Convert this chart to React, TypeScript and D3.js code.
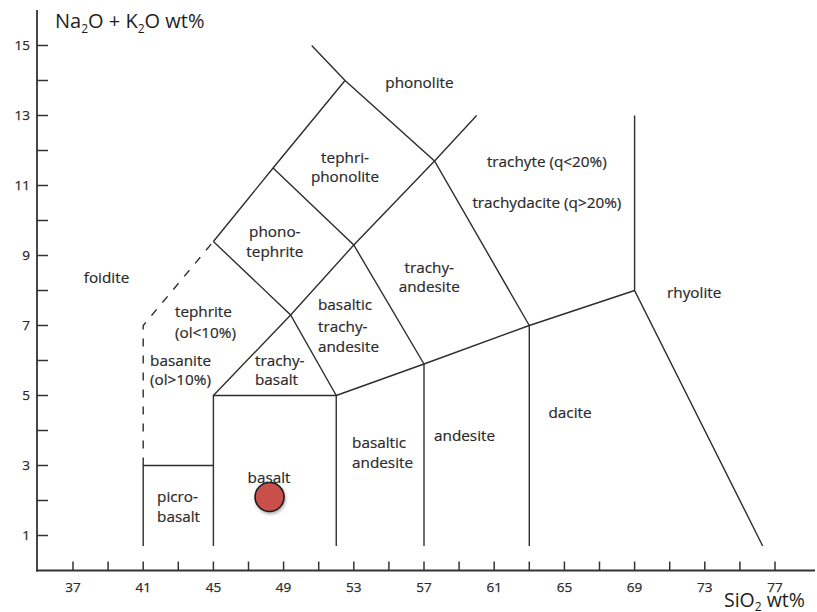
import React from "react";
import * as d3 from "d3";

// TAS (total alkali vs silica) classification diagram

// boundary polylines, [SiO2, Na2O+K2O]
const solidBoundaries: [number, number][][] = [
  [[41, 0.7], [41, 3], [45, 3]],
  [[45, 0.7], [45, 5], [52, 5], [52, 0.7]],
  [[52, 5], [57, 5.9], [63, 7], [69, 8]],
  [[57, 0.7], [57, 5.9]],
  [[63, 0.7], [63, 7]],
  [[69, 13], [69, 8], [76.3, 0.7]],
  [[45, 9.4], [49.4, 7.3], [52, 5]],
  [[45, 5], [49.4, 7.3], [53, 9.3], [57.6, 11.7], [60, 13]],
  [[48.4, 11.5], [53, 9.3], [57, 5.9]],
  [[45, 9.4], [48.4, 11.5], [52.5, 14]],
  [[50.6, 15], [52.5, 14], [57.6, 11.7], [63, 7]],
];
const dashedBoundaries: [number, number][][] = [
  [[41, 3], [41, 7], [45, 9.4]],
];

// field names: text, SiO2, alkali, anchor
const fieldLabels: [string, number, number, string][] = [
  ["phonolite", 56.74, 13.93, "middle"],
  ["tephri-", 52.5, 11.81, "middle"],
  ["phonolite", 52.5, 11.24, "middle"],
  ["trachyte (q<20%)", 64.0, 11.67, "middle"],
  ["trachydacite (q>20%)", 64.0, 10.5, "middle"],
  ["phono-", 48.5, 9.67, "middle"],
  ["tephrite", 48.5, 9.1, "middle"],
  ["foidite", 38.91, 8.36, "middle"],
  ["trachy-", 57.3, 8.64, "middle"],
  ["andesite", 57.3, 8.1, "middle"],
  ["rhyolite", 70.85, 7.93, "start"],
  ["tephrite", 42.81, 7.39, "start"],
  ["(ol<10%)", 42.81, 6.81, "start"],
  ["basanite", 41.39, 6.01, "start"],
  ["(ol>10%)", 41.39, 5.44, "start"],
  ["trachy-", 47.37, 6.01, "start"],
  ["basalt", 47.37, 5.44, "start"],
  ["basaltic", 50.96, 7.59, "start"],
  ["trachy-", 50.96, 6.96, "start"],
  ["andesite", 50.96, 6.39, "start"],
  ["dacite", 65.32, 4.5, "middle"],
  ["andesite", 59.31, 3.84, "middle"],
  ["basaltic", 52.9, 3.64, "start"],
  ["andesite", 52.9, 3.07, "start"],
  ["basalt", 48.17, 2.64, "middle"],
  ["picro-", 41.79, 2.1, "start"],
  ["basalt", 41.79, 1.53, "start"],
];

// sample
const sampleSiO2 = [48.2];
const sampleAlkali = [2.1];

const xTicks = d3.range(37, 78, 2);
const xTickLabels = [37, 41, 45, 49, 53, 57, 61, 65, 69, 73, 77];
const yTicks = d3.range(1, 16, 1);
const yTickLabels = [1, 3, 5, 7, 9, 11, 13, 15];

const W = 817;
const H = 612;
const FONT = "'Open Sans', 'DejaVu Sans', sans-serif";
const INK = "#2e2e2e";
const TEXT = "#2a2a2a";

export default function App() {
  const x = d3.scaleLinear().domain([37, 77]).range([73, 775]);
  const y = d3.scaleLinear().domain([0, 15]).range([570.5, 45.5]);
  const axisX = 37;
  const axisY = y(0);

  const line = d3
    .line<[number, number]>()
    .x((d) => x(d[0]))
    .y((d) => y(d[1]));

  return (
    <svg
      width={W}
      height={H}
      style={{ position: "absolute", left: 0, top: 0, background: "#fff" }}
      fontFamily={FONT}
    >
      <defs>
        <filter id="shadow" x="-50%" y="-50%" width="200%" height="200%">
          <feDropShadow dx="1" dy="2" stdDeviation="1.5" floodColor="#000" floodOpacity="0.3" />
        </filter>
      </defs>

      {/* axes */}
      <line x1={axisX} x2={axisX} y1={10} y2={axisY + 1} stroke="#333" strokeWidth={1.8} />
      <line x1={axisX - 1} x2={815} y1={axisY} y2={axisY} stroke="#333" strokeWidth={1.8} />
      {yTicks.map((t) => (
        <line key={"yt" + t} x1={axisX} x2={axisX + 11} y1={y(t)} y2={y(t)} stroke="#333" strokeWidth={1.5} />
      ))}
      {xTicks.map((t) => (
        <line key={"xt" + t} x1={x(t)} x2={x(t)} y1={axisY} y2={axisY - 9} stroke="#333" strokeWidth={1.5} />
      ))}
      {yTickLabels.map((t) => (
        <text key={"yl" + t} x={30} y={y(t)} dy="0.36em" textAnchor="end" fontSize={13.5} fill={TEXT}
          stroke={TEXT} strokeWidth={0.25}>
          {t}
        </text>
      ))}
      {xTickLabels.map((t) => (
        <text key={"xl" + t} x={x(t)} y={592} textAnchor="middle" fontSize={13.5} fill={TEXT}
          stroke={TEXT} strokeWidth={0.25}>
          {t}
        </text>
      ))}

      {/* axis titles */}
      <text x={55} y={28} fontSize={20} fill="#1e1e1e">
        Na<tspan fontSize={12} dy={5}>2</tspan>
        <tspan dy={-5}>O + K</tspan>
        <tspan fontSize={12} dy={5}>2</tspan>
        <tspan dy={-5}>O wt%</tspan>
      </text>
      <text x={724} y={607} fontSize={19.5} fill="#1e1e1e">
        SiO<tspan fontSize={12} dy={4}>2</tspan>
        <tspan dy={-4}> wt%</tspan>
      </text>

      {/* field boundaries */}
      {solidBoundaries.map((b, i) => (
        <path key={"b" + i} d={line(b) || ""} fill="none" stroke={INK} strokeWidth={1.4} strokeLinejoin="miter" />
      ))}
      {dashedBoundaries.map((b, i) => (
        <path key={"d" + i} d={line(b) || ""} fill="none" stroke={INK} strokeWidth={1.4} strokeDasharray="8,9" />
      ))}

      {/* field names */}
      {fieldLabels.map(([t, sx, sy, anchor], i) => (
        <text key={"f" + i} x={x(sx)} y={y(sy)} dy="0.35em" textAnchor={anchor} fontSize={15.3} fill={TEXT}
          stroke={TEXT} strokeWidth={0.2}>
          {t}
        </text>
      ))}

      {/* sample */}
      {sampleSiO2.map((s, i) => (
        <circle
          key={"s" + i}
          cx={x(s)}
          cy={y(sampleAlkali[i])}
          r={14.5}
          fill="#c9504c"
          stroke="#1a1a1a"
          strokeWidth={1.6}
          filter="url(#shadow)"
        />
      ))}
    </svg>
  );
}
